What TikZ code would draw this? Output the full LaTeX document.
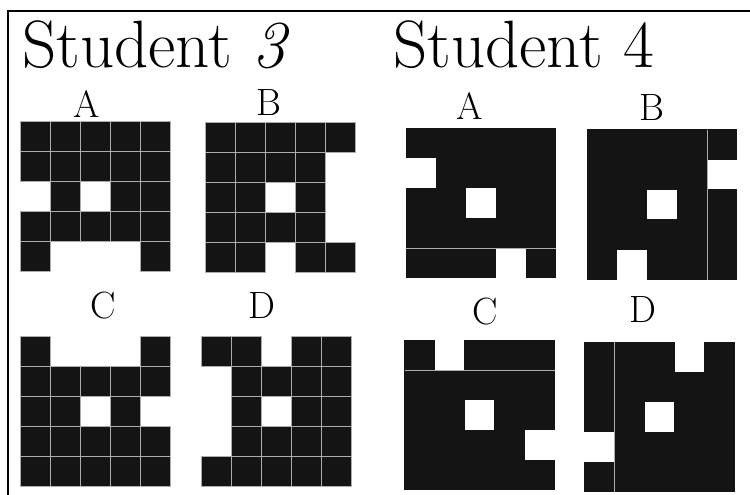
\documentclass[tikz,border=0pt]{standalone}
\usepackage{tikz}
\usetikzlibrary{positioning}

\begin{document}
\begin{tikzpicture}[
    x=1pt, y=-1pt,
    title/.style={anchor=base west, inner sep=0pt, font=\fontsize{67}{67}\selectfont},
    letter/.style={inner sep=0pt, font=\fontsize{38}{38}\selectfont},
    cellA/.style={fill=black!92, draw=gray!65, line width=0.8pt},
    cellB/.style={fill=black!92, draw=none},
    seam/.style={draw=gray!65, line width=0.8pt},
    frame/.style={draw=black, line width=1.8pt},
]
\useasboundingbox (0,0) rectangle (750,495);

% Frame (top and left only)
\draw[frame] (750,11) -- (8,11) -- (8,495);

% Titles
\node[title] (stu3) at (22,68) {Student \textit{3}};
\node[title] (stu4) at (393,68) {Student 4};

% Student 3, A
\node[letter] (s3a) at (87,104) {A};
\begin{scope}[shift={(20.7,121.7)}]
  \foreach \c/\r in {0/0,1/0,2/0,3/0,4/0, 0/1,1/1,2/1,3/1,4/1, 1/2,3/2,4/2,
                     0/3,1/3,2/3,3/3,4/3, 0/4,4/4}
    \draw[cellA] (\c*30,\r*30) rectangle ++(30,30);
\end{scope}

% Student 3, B
\node[letter] (s3b) at (269,103) {B};
\begin{scope}[shift={(205,122)}]
  \foreach \c/\r in {0/0,1/0,2/0,3/0,4/0, 0/1,1/1,2/1,3/1, 0/2,1/2,3/2,
                     0/3,1/3,2/3,3/3, 0/4,1/4,3/4,4/4}
    \draw[cellA] (\c*30,\r*30) rectangle ++(30,30);
\end{scope}

% Student 3, C
\node[letter] (s3c) at (103,306) {C};
\begin{scope}[shift={(20.7,336.7)}]
  \foreach \c/\r in {0/0,4/0, 0/1,1/1,2/1,3/1,4/1, 0/2,1/2,3/2,
                     0/3,1/3,2/3,3/3,4/3, 0/4,1/4,2/4,3/4,4/4}
    \draw[cellA] (\c*30,\r*30) rectangle ++(30,30);
\end{scope}

% Student 3, D
\node[letter] (s3d) at (262,306) {D};
\begin{scope}[shift={(201,336)}]
  \foreach \c/\r in {0/0,1/0,3/0,4/0, 1/1,2/1,3/1,4/1, 1/2,3/2,4/2,
                     1/3,2/3,3/3,4/3, 0/4,1/4,2/4,3/4,4/4}
    \draw[cellA] (\c*30,\r*30) rectangle ++(30,30);
\end{scope}

% Student 4, A
\node[letter] (s4a) at (470,106) {A};
\begin{scope}[shift={(406,128)}]
  \foreach \c/\r in {0/0,1/0,2/0,3/0,4/0, 1/1,2/1,3/1,4/1, 0/2,1/2,3/2,4/2,
                     0/3,1/3,2/3,3/3,4/3, 0/4,1/4,2/4,4/4}
    \fill[cellB] (\c*30-0.2,\r*30-0.2) rectangle ++(30.4,30.4);
  \draw[seam] (0,120) -- (150,120);
\end{scope}

% Student 4, B
\node[letter] (s4b) at (652,108) {B};
\begin{scope}[shift={(587,129.5)}]
  \foreach \c/\r in {0/0,1/0,2/0,3/0,4/0, 0/1,1/1,2/1,3/1, 0/2,1/2,3/2,4/2,
                     0/3,1/3,2/3,3/3,4/3, 0/4,2/4,3/4,4/4}
    \fill[cellB] (\c*30-0.2,\r*30-0.2) rectangle ++(30.4,30.4);
  \draw[seam] (120,0) -- (120,150);
\end{scope}

% Student 4, C
\node[letter] (s4c) at (485,312) {C};
\begin{scope}[shift={(404.5,340)}]
  \foreach \c/\r in {0/0,2/0,3/0,4/0, 0/1,1/1,2/1,3/1,4/1, 0/2,1/2,3/2,4/2,
                     0/3,1/3,2/3,3/3, 0/4,1/4,2/4,3/4,4/4}
    \fill[cellB] (\c*30-0.2,\r*30-0.2) rectangle ++(30.4,30.4);
  \draw[seam] (0,30) -- (150,30);
\end{scope}

% Student 4, D
\node[letter] (s4d) at (643,310) {D};
\begin{scope}[shift={(584.5,342)}]
  \foreach \c/\r in {0/0,1/0,2/0,4/0, 0/1,1/1,2/1,3/1,4/1, 0/2,1/2,3/2,4/2,
                     1/3,2/3,3/3,4/3, 0/4,1/4,2/4,3/4,4/4}
    \fill[cellB] (\c*30-0.2,\r*30-0.2) rectangle ++(30.4,30.4);
  \draw[seam] (30,0) -- (30,150);
\end{scope}

\end{tikzpicture}
\end{document}
